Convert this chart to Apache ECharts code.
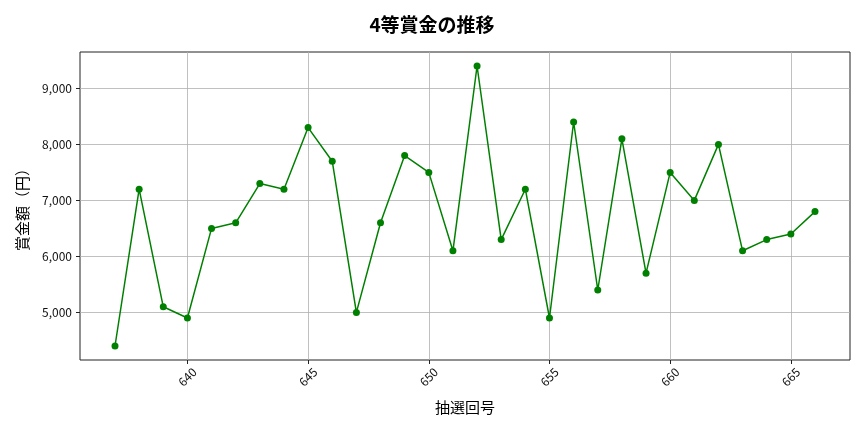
<!DOCTYPE html>
<html><head><meta charset="utf-8">
<script src="https://cdn.jsdelivr.net/npm/echarts@6/dist/echarts.min.js"></script>
<style>html,body{margin:0;padding:0;background:#fff}#c{width:864px;height:432px}</style>
</head><body><div id="c"></div>
<script>
const draws = [637,638,639,640,641,642,643,644,645,646,647,648,649,650,651,652,653,654,655,656,657,658,659,660,661,662,663,664,665,666];
const prizes = [4400,7200,5100,4900,6500,6600,7300,7200,8300,7700,5000,6600,7800,7500,6100,9400,6300,7200,4900,8400,5400,8100,5700,7500,7000,8000,6100,6300,6400,6800];
const xTicks = [640,645,650,655,660,665];
const yTicks = [5000,6000,7000,8000,9000];
const font = '"Noto Sans CJK JP", "Noto Sans", sans-serif';
const chart = echarts.init(document.getElementById('c'));
chart.setOption({
  animation:false,
  textStyle:{fontFamily:font},
  title:{text:'4等賞金の推移',left:'center',top:10,textStyle:{fontFamily:font,fontSize:19,fontWeight:'bold',color:'#000'}},
  grid:{left:80,right:14,top:52,bottom:72,show:true,borderColor:'#222',borderWidth:1,backgroundColor:'transparent'},
  xAxis:{type:'value',min:635.55,max:667.45,
    name:'抽選回号',nameLocation:'middle',nameGap:40,nameTextStyle:{fontFamily:font,fontSize:15,color:'#000'},
    axisLine:{show:false},
    axisTick:{show:true,customValues:xTicks,length:4,lineStyle:{color:'#222'}},
    axisLabel:{customValues:xTicks,rotate:45,align:'center',verticalAlign:'middle',fontSize:12,color:'#111',margin:17,fontFamily:font},
    splitLine:{show:true,lineStyle:{color:'#b0b0b0',width:0.8}}},
  yAxis:{type:'value',min:4150,max:9650,
    name:'賞金額（円）',nameLocation:'middle',nameGap:50,nameTextStyle:{fontFamily:font,fontSize:15,color:'#000'},
    axisLine:{show:false},
    axisTick:{show:true,customValues:yTicks,length:4,lineStyle:{color:'#222'}},
    axisLabel:{customValues:yTicks,fontSize:12,color:'#111',fontFamily:font,formatter:v=>v.toLocaleString('en-US')},
    splitLine:{show:true,lineStyle:{color:'#b0b0b0',width:0.8}}},
  series:[{type:'line',data:draws.map((d,i)=>[d,prizes[i]]),
    lineStyle:{color:'#008000',width:1.5},itemStyle:{color:'#008000'},
    symbol:'circle',symbolSize:7,showSymbol:true}]
});
</script></body></html>
